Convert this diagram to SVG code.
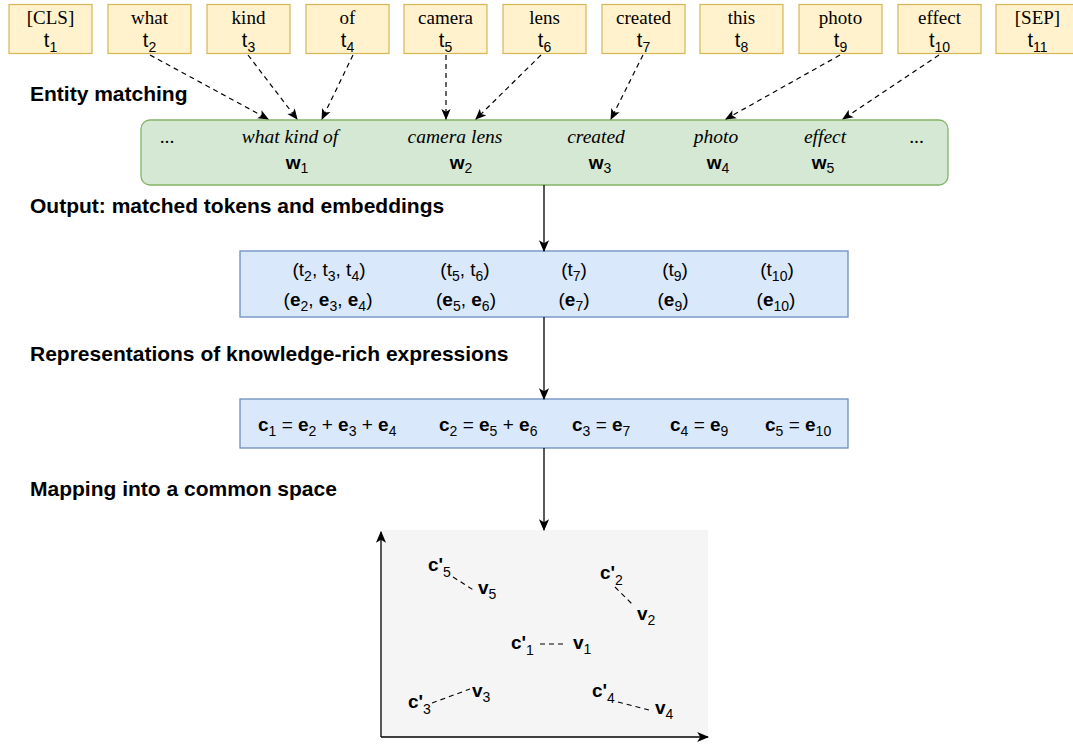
<svg xmlns="http://www.w3.org/2000/svg" width="1073" height="744" viewBox="0 0 1073 744">
<style>
.tok{fill:#fff2cc;stroke:#d6b656;stroke-width:1.2}
.word{font-family:"Liberation Serif",serif;font-size:19px;fill:#000;text-anchor:middle}
.it{font-family:"Liberation Serif",serif;font-size:19.5px;font-style:italic;fill:#000;text-anchor:middle}
.sans{font-family:"Liberation Sans",Arial,sans-serif;font-size:19px;fill:#000}
.tt{font-size:20px}
.mid{text-anchor:middle}
.b{font-weight:bold}
.sub{font-size:14px;font-weight:normal}
.head{font-family:"Liberation Sans",Arial,sans-serif;font-size:21px;font-weight:bold;fill:#000}
.dash{fill:none;stroke:#000;stroke-width:1.2;stroke-dasharray:5 4}
.solid{fill:none;stroke:#000;stroke-width:1.3}
.pd{fill:none;stroke:#000;stroke-width:1.1;stroke-dasharray:5 4}
</style>
<defs>
<marker id="ah" viewBox="0 0 10 10" refX="9" refY="5" markerWidth="11" markerHeight="11" markerUnits="userSpaceOnUse" orient="auto">
<path d="M0,0.8 L10,5 L0,9.2 L2.5,5 z" fill="#000"/>
</marker>
<marker id="ahb" viewBox="0 0 10 10" refX="9" refY="5" markerWidth="12" markerHeight="12" markerUnits="userSpaceOnUse" orient="auto">
<path d="M0,0.8 L10,5 L0,9.2 L2.5,5 z" fill="#000"/>
</marker>
</defs>

<g id="tokens">
<g id="t1"><rect class="tok" x="9" y="4.5" width="83" height="49"/><text class="word" x="50.5" y="24">[CLS]</text><text class="sans tt mid" x="50.5" y="47">t<tspan class="sub" dy="5">1</tspan></text></g>
<g id="t2"><rect class="tok" x="108" y="4.5" width="83" height="49"/><text class="word" x="149.5" y="24">what</text><text class="sans tt mid" x="149.5" y="47">t<tspan class="sub" dy="5">2</tspan></text></g>
<g id="t3"><rect class="tok" x="207" y="4.5" width="83" height="49"/><text class="word" x="248.5" y="24">kind</text><text class="sans tt mid" x="248.5" y="47">t<tspan class="sub" dy="5">3</tspan></text></g>
<g id="t4"><rect class="tok" x="306" y="4.5" width="83" height="49"/><text class="word" x="347.5" y="24">of</text><text class="sans tt mid" x="347.5" y="47">t<tspan class="sub" dy="5">4</tspan></text></g>
<g id="t5"><rect class="tok" x="404" y="4.5" width="83" height="49"/><text class="word" x="445.5" y="24">camera</text><text class="sans tt mid" x="445.5" y="47">t<tspan class="sub" dy="5">5</tspan></text></g>
<g id="t6"><rect class="tok" x="503" y="4.5" width="83" height="49"/><text class="word" x="544.5" y="24">lens</text><text class="sans tt mid" x="544.5" y="47">t<tspan class="sub" dy="5">6</tspan></text></g>
<g id="t7"><rect class="tok" x="602" y="4.5" width="83" height="49"/><text class="word" x="643.5" y="24">created</text><text class="sans tt mid" x="643.5" y="47">t<tspan class="sub" dy="5">7</tspan></text></g>
<g id="t8"><rect class="tok" x="700" y="4.5" width="83" height="49"/><text class="word" x="741.5" y="24">this</text><text class="sans tt mid" x="741.5" y="47">t<tspan class="sub" dy="5">8</tspan></text></g>
<g id="t9"><rect class="tok" x="799" y="4.5" width="83" height="49"/><text class="word" x="840.5" y="24">photo</text><text class="sans tt mid" x="840.5" y="47">t<tspan class="sub" dy="5">9</tspan></text></g>
<g id="t10"><rect class="tok" x="898" y="4.5" width="83" height="49"/><text class="word" x="939.5" y="24">effect</text><text class="sans tt mid" x="939.5" y="47">t<tspan class="sub" dy="5">10</tspan></text></g>
<g id="t11"><rect class="tok" x="996" y="4.5" width="83" height="49"/><text class="word" x="1037.5" y="24">[SEP]</text><text class="sans tt mid" x="1037.5" y="47">t<tspan class="sub" dy="5">11</tspan></text></g>
</g>

<g id="labels">
<text class="head" x="30" y="101">Entity matching</text>
<text class="head" x="30" y="213">Output: matched tokens and embeddings</text>
<text class="head" x="30" y="361">Representations of knowledge-rich expressions</text>
<text class="head" x="30" y="496">Mapping into a common space</text>
</g>

<g id="entities">
<rect x="141" y="120" width="807" height="65" rx="9" fill="#d5e8d4" stroke="#82b366" stroke-width="1.3"/>
<text class="it" x="167.5" y="143">...</text>
<text class="it" x="290" y="143">what kind of</text>
<text class="it" x="455" y="143">camera lens</text>
<text class="it" x="596" y="143">created</text>
<text class="it" x="716" y="143">photo</text>
<text class="it" x="825" y="143">effect</text>
<text class="it" x="917" y="143">...</text>
<text class="sans mid b" x="297" y="169">w<tspan class="sub" dy="4">1</tspan></text>
<text class="sans mid b" x="461" y="169">w<tspan class="sub" dy="4">2</tspan></text>
<text class="sans mid b" x="600" y="169">w<tspan class="sub" dy="4">3</tspan></text>
<text class="sans mid b" x="718" y="169">w<tspan class="sub" dy="4">4</tspan></text>
<text class="sans mid b" x="823" y="169">w<tspan class="sub" dy="4">5</tspan></text>
</g>

<g id="matched">
<rect x="240" y="251" width="608" height="66" fill="#dae8fc" stroke="#6c8ebf" stroke-width="1.3"/>
<text class="sans mid" x="329" y="276">(t<tspan class="sub" dy="5">2</tspan><tspan dy="-5">, t</tspan><tspan class="sub" dy="5">3</tspan><tspan dy="-5">, t</tspan><tspan class="sub" dy="5">4</tspan><tspan dy="-5">)</tspan></text>
<text class="sans mid" x="465" y="276">(t<tspan class="sub" dy="5">5</tspan><tspan dy="-5">, t</tspan><tspan class="sub" dy="5">6</tspan><tspan dy="-5">)</tspan></text>
<text class="sans mid" x="574" y="276">(t<tspan class="sub" dy="5">7</tspan><tspan dy="-5">)</tspan></text>
<text class="sans mid" x="675" y="276">(t<tspan class="sub" dy="5">9</tspan><tspan dy="-5">)</tspan></text>
<text class="sans mid" x="777" y="276">(t<tspan class="sub" dy="5">10</tspan><tspan dy="-5">)</tspan></text>
<text class="sans mid" x="328" y="306">(<tspan class="b">e</tspan><tspan class="sub" dy="5">2</tspan><tspan dy="-5">, </tspan><tspan class="b">e</tspan><tspan class="sub" dy="5">3</tspan><tspan dy="-5">, </tspan><tspan class="b">e</tspan><tspan class="sub" dy="5">4</tspan><tspan dy="-5">)</tspan></text>
<text class="sans mid" x="466" y="306">(<tspan class="b">e</tspan><tspan class="sub" dy="5">5</tspan><tspan dy="-5">, </tspan><tspan class="b">e</tspan><tspan class="sub" dy="5">6</tspan><tspan dy="-5">)</tspan></text>
<text class="sans mid" x="574" y="306">(<tspan class="b">e</tspan><tspan class="sub" dy="5">7</tspan><tspan dy="-5">)</tspan></text>
<text class="sans mid" x="673" y="306">(<tspan class="b">e</tspan><tspan class="sub" dy="5">9</tspan><tspan dy="-5">)</tspan></text>
<text class="sans mid" x="776" y="306">(<tspan class="b">e</tspan><tspan class="sub" dy="5">10</tspan><tspan dy="-5">)</tspan></text>
</g>

<g id="representations">
<rect x="240" y="399" width="608" height="49" fill="#dae8fc" stroke="#6c8ebf" stroke-width="1.3"/>
<text class="sans" x="258" y="431"><tspan class="b">c</tspan><tspan class="sub" dy="5">1</tspan><tspan dy="-5"> = </tspan><tspan class="b">e</tspan><tspan class="sub" dy="5">2</tspan><tspan dy="-5"> + </tspan><tspan class="b">e</tspan><tspan class="sub" dy="5">3</tspan><tspan dy="-5"> + </tspan><tspan class="b">e</tspan><tspan class="sub" dy="5">4</tspan></text>
<text class="sans" x="439" y="431"><tspan class="b">c</tspan><tspan class="sub" dy="5">2</tspan><tspan dy="-5"> = </tspan><tspan class="b">e</tspan><tspan class="sub" dy="5">5</tspan><tspan dy="-5"> + </tspan><tspan class="b">e</tspan><tspan class="sub" dy="5">6</tspan></text>
<text class="sans" x="572" y="431"><tspan class="b">c</tspan><tspan class="sub" dy="5">3</tspan><tspan dy="-5"> = </tspan><tspan class="b">e</tspan><tspan class="sub" dy="5">7</tspan></text>
<text class="sans" x="670" y="431"><tspan class="b">c</tspan><tspan class="sub" dy="5">4</tspan><tspan dy="-5"> = </tspan><tspan class="b">e</tspan><tspan class="sub" dy="5">9</tspan></text>
<text class="sans" x="765" y="431"><tspan class="b">c</tspan><tspan class="sub" dy="5">5</tspan><tspan dy="-5"> = </tspan><tspan class="b">e</tspan><tspan class="sub" dy="5">10</tspan></text>
</g>

<g id="space">
<rect x="381" y="530" width="327" height="207" fill="#f5f5f5"/>
<text class="sans b" x="428" y="571">c'<tspan class="sub" dy="6">5</tspan></text>
<text class="sans b" x="478" y="594">v<tspan class="sub" dy="5">5</tspan></text>
<text class="sans b" x="600" y="579">c'<tspan class="sub" dy="6">2</tspan></text>
<text class="sans b" x="637" y="620">v<tspan class="sub" dy="5">2</tspan></text>
<text class="sans b" x="511" y="649">c'<tspan class="sub" dy="6">1</tspan></text>
<text class="sans b" x="573" y="649">v<tspan class="sub" dy="5">1</tspan></text>
<text class="sans b" x="408" y="708">c'<tspan class="sub" dy="6">3</tspan></text>
<text class="sans b" x="472" y="697">v<tspan class="sub" dy="5">3</tspan></text>
<text class="sans b" x="592" y="697">c'<tspan class="sub" dy="6">4</tspan></text>
<text class="sans b" x="655" y="714">v<tspan class="sub" dy="5">4</tspan></text>
<line class="pd" x1="453" y1="577" x2="475" y2="591"/>
<line class="pd" x1="615" y1="587" x2="633" y2="605"/>
<line class="pd" x1="540" y1="644" x2="566" y2="644"/>
<line class="pd" x1="432" y1="703" x2="470" y2="689"/>
<line class="pd" x1="618" y1="702" x2="653" y2="711"/>
<line class="solid" x1="381" y1="737" x2="381" y2="532" marker-end="url(#ahb)"/>
<line class="solid" x1="381" y1="737" x2="708" y2="737" marker-end="url(#ahb)"/>
</g>

<g id="connectors">
<line class="dash" x1="150" y1="55" x2="268" y2="119" marker-end="url(#ah)"/>
<line class="dash" x1="248" y1="55" x2="297" y2="119" marker-end="url(#ah)"/>
<line class="dash" x1="353" y1="55" x2="322" y2="119" marker-end="url(#ah)"/>
<line class="dash" x1="446" y1="55" x2="446" y2="119" marker-end="url(#ah)"/>
<line class="dash" x1="541" y1="55" x2="476" y2="119" marker-end="url(#ah)"/>
<line class="dash" x1="643" y1="55" x2="611" y2="119" marker-end="url(#ah)"/>
<line class="dash" x1="840" y1="55" x2="726" y2="119" marker-end="url(#ah)"/>
<line class="dash" x1="939" y1="55" x2="843" y2="119" marker-end="url(#ah)"/>
<line class="solid" x1="544" y1="185" x2="544" y2="251" marker-end="url(#ahb)"/>
<line class="solid" x1="544" y1="317" x2="544" y2="399" marker-end="url(#ahb)"/>
<line class="solid" x1="544" y1="448" x2="544" y2="530" marker-end="url(#ahb)"/>
</g>
</svg>
